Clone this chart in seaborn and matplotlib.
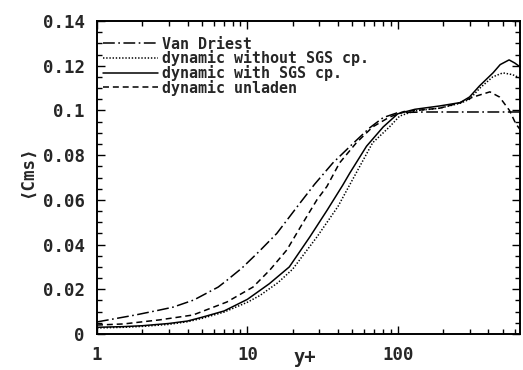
import numpy as np
import pandas as pd
import matplotlib
matplotlib.use("Agg")
import matplotlib.pyplot as plt
import seaborn as sns
from matplotlib.ticker import FixedLocator, FixedFormatter, MultipleLocator, LogLocator, NullFormatter

# ---------------- data ----------------
vd_yplus = [1, 1.8, 2.6, 3.2, 4.4, 6.4, 7.3, 9.2, 12, 15.7, 22.4, 28, 37, 50, 65, 80, 100, 150, 300, 650]
vd_cms = [0.0054, 0.0085, 0.0107, 0.0120, 0.0152, 0.0210, 0.0240, 0.0295, 0.0370, 0.0450,
          0.0586, 0.0670, 0.0765, 0.0850, 0.0922, 0.0968, 0.0990, 0.0993, 0.0993, 0.0993]

wo_yplus = [1, 1.5, 2, 3, 4, 5, 7, 10, 12.1, 16, 20, 29, 40, 50, 68, 88, 103, 130, 190, 260, 300, 352, 428, 500, 580, 650]
wo_cms = [0.0027, 0.0030, 0.0034, 0.0043, 0.0055, 0.0070, 0.0098, 0.0142, 0.0172, 0.0230, 0.0290,
          0.0434, 0.0570, 0.0690, 0.0855, 0.0926, 0.0975, 0.0998, 0.1010, 0.1032, 0.1050, 0.1100,
          0.1150, 0.1168, 0.1160, 0.1145]

wi_yplus = [1, 1.5, 2, 3, 4, 5, 7, 10, 14, 19, 26, 34, 43, 48, 62, 80, 100, 130, 190, 260, 300, 350, 430, 480, 550, 600, 650]
wi_cms = [0.0030, 0.0033, 0.0037, 0.0047, 0.0058, 0.0075, 0.0103, 0.0155, 0.0225, 0.0300, 0.0434,
          0.0555, 0.0665, 0.0720, 0.0840, 0.0926, 0.0985, 0.1005, 0.1020, 0.1035, 0.1060, 0.1110,
          0.1168, 0.1205, 0.1226, 0.1212, 0.1195]

un_yplus = [1, 1.5, 2.6, 4.35, 7.3, 10.9, 14.1, 18.3, 23.4, 29, 33.8, 41, 53, 68, 88, 110, 190, 258, 317, 410, 475, 553, 610, 650]
un_cms = [0.0040, 0.0045, 0.0063, 0.0085, 0.0143, 0.0210, 0.0286, 0.0376, 0.0497, 0.0600, 0.0660,
          0.0765, 0.0855, 0.0926, 0.0970, 0.0995, 0.1010, 0.1034, 0.1060, 0.1083, 0.1060, 0.1000,
          0.0940, 0.0915]

series_labels = ["Van Driest", "dynamic without SGS cp.", "dynamic with SGS cp.", "dynamic unladen"]
ytick_values = [0, 0.02, 0.04, 0.06, 0.08, 0.1, 0.12, 0.14]
ytick_labels = ["0", "0.02", "0.04", "0.06", "0.08", "0.1", "0.12", "0.14"]
xtick_values = [1, 10, 100]
xtick_labels = ["1", "10", "100"]
x_label = "y+"
y_label = "\u27e8Cms\u27e9"

# ---------------- style ----------------
sns.set_style("ticks")
plt.rcParams["lines.scale_dashes"] = False
plt.rcParams["font.family"] = ["DejaVu Sans Mono", "DejaVu Sans"]

mono = ["DejaVu Sans Mono", "DejaVu Sans"]

fig = plt.figure(figsize=(5.23, 3.70), dpi=100)
ax = fig.add_axes([97 / 523, 36 / 370, 423 / 523, 313 / 370])

styles = [
    (0, (8.5, 2.5, 1.2, 2.5)),   # Van Driest: long dash-dot
    (0, (1.0, 1.3)),             # dotted
    "solid",
    (0, (4.3, 2.8)),             # dashed
]
datasets = [(vd_yplus, vd_cms), (wo_yplus, wo_cms), (wi_yplus, wi_cms), (un_yplus, un_cms)]

for (xs, ys), lab, ls in zip(datasets, series_labels, styles):
    df = pd.DataFrame({"yplus": xs, "cms": ys})
    sns.lineplot(data=df, x="yplus", y="cms", ax=ax, color="black",
                 linewidth=1.1, linestyle=ls, label=lab, legend=False)

ax.set_xscale("log")
ax.set_xlim(1, 650)
ax.set_ylim(0, 0.14)

ax.yaxis.set_major_locator(FixedLocator(ytick_values))
ax.yaxis.set_major_formatter(FixedFormatter(ytick_labels))
ax.yaxis.set_minor_locator(MultipleLocator(0.005))
ax.xaxis.set_major_locator(FixedLocator(xtick_values))
ax.xaxis.set_major_formatter(FixedFormatter(xtick_labels))
ax.xaxis.set_minor_locator(LogLocator(base=10, subs=np.arange(2, 10)))
ax.xaxis.set_minor_formatter(NullFormatter())

ax.tick_params(which="both", direction="in", top=True, right=True, width=1.0, color="black")
ax.tick_params(which="major", length=5.8, pad=9)
ax.tick_params(which="minor", length=3.4)
for lbl in ax.get_xticklabels() + ax.get_yticklabels():
    lbl.set_family(mono)
    lbl.set_fontsize(12.5)
    lbl.set_fontweight("bold")

for sp in ax.spines.values():
    sp.set_linewidth(1.4)
    sp.set_color("black")

ax.set_xlabel(x_label, fontsize=13.5, fontweight="bold", family=mono)
ax.xaxis.set_label_coords(0.492, -0.045)
ax.set_ylabel(y_label, fontsize=12.5, fontweight="bold", family=mono)
ax.yaxis.set_label_coords(-0.145, 0.518)

handles, labels = ax.get_legend_handles_labels()
leg = ax.legend(handles, labels, loc="upper left", bbox_to_anchor=(0.014, 0.950),
                frameon=False, handlelength=3.67, handletextpad=0.3,
                labelspacing=-0.09, borderpad=0, borderaxespad=0,
                prop={"family": mono, "size": 10.8, "weight": "bold"})

fig.savefig("out.png", dpi=100)
